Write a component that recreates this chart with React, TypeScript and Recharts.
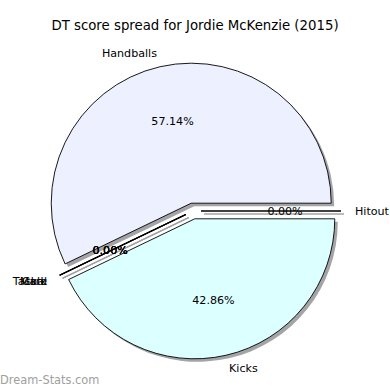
import { PieChart, Pie, Sector } from 'recharts'

const categories = ['Handballs', 'Mark', 'Tackle', 'Goal', 'Kicks', 'Hitout']
const scores = [8, 0, 0, 0, 6, 0]
const sliceColors = ['#ecf0ff', '#ffffff', '#ffffff', '#ffffff', '#dcffff', '#ffffff']

const data = categories.map((name, i) => ({ name, value: scores[i] }))

const CX = 193
const CY = 211
const R = 140
const EXPLODE = 8
const SHADOW = 3
const RAD = Math.PI / 180
const FONT = 'DejaVu Sans'

// exploded centre of a slice, pushed out along its mid angle
function shifted(p: any) {
  const m = p.midAngle * RAD
  return { x: p.cx + EXPLODE * Math.cos(m), y: p.cy - EXPLODE * Math.sin(m), m }
}

function drawWedge(p: any, dx: number, dy: number, fill: string, stroke: string, sw: number) {
  const c = shifted(p)
  const x = c.x + dx
  const y = c.y + dy
  if (p.endAngle - p.startAngle <= 0) {
    return (
      <line x1={x} y1={y} x2={x + p.outerRadius * Math.cos(c.m)} y2={y - p.outerRadius * Math.sin(c.m)}
        stroke={stroke === 'none' ? fill : stroke} strokeWidth={1.3} />
    )
  }
  return (
    <Sector cx={x} cy={y} innerRadius={0} outerRadius={p.outerRadius} startAngle={p.startAngle}
      endAngle={p.endAngle} fill={fill} stroke={stroke} strokeWidth={sw} />
  )
}

const renderShadow = (p: any) => drawWedge(p, SHADOW, SHADOW, '#a4a4a6', 'none', 0)

const renderSlice = (p: any) => drawWedge(p, 0, 0, sliceColors[p.index], '#000', 0.9)

const renderText = (p: any) => {
  const c = shifted(p)
  const cos = Math.cos(c.m)
  const sin = Math.sin(c.m)
  const lx = c.x + 1.1 * p.outerRadius * cos
  const ly = c.y - 1.1 * p.outerRadius * sin
  const px = c.x + 0.6 * p.outerRadius * cos
  const py = c.y - 0.6 * p.outerRadius * sin
  return (
    <g>
      <text x={lx} y={ly} textAnchor={lx > p.cx ? 'start' : 'end'} dominantBaseline="central"
        fontFamily={FONT} fontSize={11.1} fill="#000">{p.name}</text>
      <text x={px} y={py} textAnchor="middle" dominantBaseline="central"
        fontFamily={FONT} fontSize={11.1} fill="#000">{(p.percent * 100).toFixed(2)}%</text>
    </g>
  )
}

export default function App() {
  const pieProps = {
    data,
    dataKey: 'value',
    nameKey: 'name',
    cx: CX,
    cy: CY,
    outerRadius: R,
    startAngle: 0,
    endAngle: 360,
    fill: 'none',
    stroke: 'none',
    labelLine: false,
    isAnimationActive: false,
  }
  return (
    <div style={{ position: 'absolute', left: 0, top: 0, width: 390, height: 390, background: '#fff' }}>
      <PieChart width={390} height={390} margin={{ top: 0, right: 0, bottom: 0, left: 0 }}>
        <Pie {...pieProps} label={renderShadow} />
        <Pie {...pieProps} label={renderSlice} />
        <Pie {...pieProps} label={renderText} />
      </PieChart>
      <svg width={390} height={390} style={{ position: 'absolute', left: 0, top: 0, pointerEvents: 'none' }}>
        <text x={195} y={25} textAnchor="middle" dominantBaseline="central" fontFamily={FONT} fontSize={13.3} fill="#000">
          DT score spread for Jordie McKenzie (2015)
        </text>
        <text x={0} y={384} fontFamily={FONT} fontSize={11.4} fill="#a0a0a0">Dream-Stats.com</text>
      </svg>
    </div>
  )
}
